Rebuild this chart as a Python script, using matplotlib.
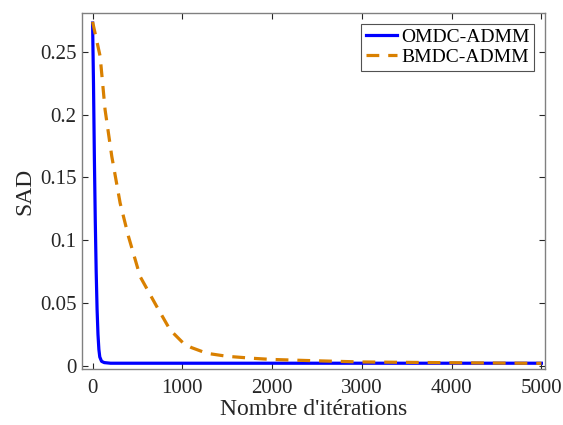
import matplotlib
matplotlib.use('Agg')
import matplotlib.pyplot as plt

plt.rcParams['font.family'] = ['Liberation Serif', 'DejaVu Serif']
plt.rcParams['mathtext.fontset'] = 'stix'

# OMDC-ADMM : chute tres rapide
omdc_x = [0, 10, 20, 30, 40, 50, 60, 70, 80, 100, 130, 200, 500, 1000, 2000, 3000, 4000, 5000]
omdc_y = [0.273, 0.225, 0.165, 0.115, 0.075, 0.045, 0.025, 0.013, 0.007, 0.0035, 0.0025,
          0.002, 0.002, 0.002, 0.002, 0.002, 0.002, 0.002]

# BMDC-ADMM : decroissance lente
bmdc_x = [0, 84, 139, 214, 307, 400, 530, 716, 864, 1012, 1100, 1273, 1500, 1790, 2000,
          2460, 3000, 4000, 5000]
bmdc_y = [0.274, 0.2465, 0.204, 0.1667, 0.1295, 0.1029, 0.071, 0.047, 0.0285, 0.0179,
          0.0145, 0.0099, 0.0075, 0.0059, 0.0050, 0.0040, 0.0030, 0.0024, 0.0019]

xticks = [0, 1000, 2000, 3000, 4000, 5000]
yticks = [0, 0.05, 0.1, 0.15, 0.2, 0.25]
ytick_labels = ['0', '0.05', '0.1', '0.15', '0.2', '0.25']

fig = plt.figure(figsize=(5.63, 4.25), dpi=100)
ax = fig.add_axes([82/563, 1 - 369/425, (545-82)/563, (369-13)/425])

ax.plot(omdc_x, omdc_y, color='#0000FF', lw=2.3, label='OMDC-ADMM')
ax.plot(bmdc_x, bmdc_y, color='#D98000', lw=2.3, ls=(0, (4, 2.8)), label='BMDC-ADMM')

ax.set_xlim(-118, 5040)
ax.set_ylim(-0.0026, 0.281)
ax.set_xticks(xticks)
ax.set_xticklabels([str(t) for t in xticks])
ax.set_yticks(yticks)
ax.set_yticklabels(ytick_labels)

for s in ax.spines.values():
    s.set_color('#808080')
    s.set_linewidth(1.0)
ax.tick_params(direction='in', top=True, right=True, length=4, width=0.8,
               color='#262626', labelcolor='#262626', labelsize=15)
ax.tick_params(axis='x', pad=7)
ax.tick_params(axis='y', pad=4)

ax.set_xlabel("Nombre d'itérations", fontsize=17, color='#262626', labelpad=1)
ax.set_ylabel('SAD', fontsize=17, color='#262626', labelpad=3)

leg = ax.legend(loc='upper right', fontsize=14, frameon=True, fancybox=False,
                handlelength=1.6, handletextpad=0.2, borderpad=0.25, labelspacing=0.1,
                borderaxespad=0.55)
leg.get_frame().set_edgecolor('#262626')
leg.get_frame().set_linewidth(0.8)

fig.savefig('out.png', dpi=100)
